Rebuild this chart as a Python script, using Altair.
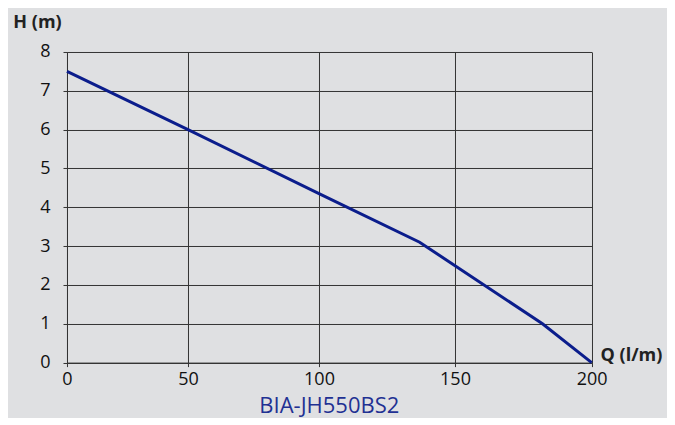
import altair as alt
import pandas as pd

q_values = [0, 50, 100, 137, 182, 200]
h_values = [7.5, 6.0, 4.35, 3.1, 1.0, 0]
x_ticks = [0, 50, 100, 150, 200]
y_ticks = [0, 1, 2, 3, 4, 5, 6, 7, 8]
model = "BIA-JH550BS2"

df = pd.DataFrame({"Q": q_values, "H": h_values})

FONT = "Open Sans"
W, H = 524.7, 310.6

chart = alt.Chart(df).mark_line(color="#0b1d8c", strokeWidth=3).encode(
    x=alt.X("Q:Q",
            scale=alt.Scale(domain=x_ticks, range=[0, 121, 252, 388, W], nice=False, zero=False),
            axis=alt.Axis(values=x_ticks, title="Q (l/m)", titleX=564, titleY=-7,
                          titleAlign="center", titleBaseline="middle",
                          labelPadding=4, tickSize=4, labelFlush=False)),
    y=alt.Y("H:Q",
            scale=alt.Scale(domain=[0, 8], nice=False),
            axis=alt.Axis(values=y_ticks, title="H (m)", titleAngle=0, titleX=-30, titleY=-30,
                          titleAlign="center", titleBaseline="middle",
                          labelPadding=13, tickSize=4, labelFlush=False)),
).properties(
    width=W, height=H,
    title=alt.TitleParams(model, orient="bottom", anchor="middle", frame="group",
                          offset=7, color="#1f3193", fontSize=22, font=FONT, fontWeight="normal"),
    background="#dfe0e2",
    autosize=alt.AutoSizeParams(type="none"),
    padding={"left": 59, "top": 44, "right": 75, "bottom": 55},
).configure_view(
    stroke=None
).configure_axis(
    grid=True, gridColor="#333333", gridWidth=1, gridOpacity=1,
    domainColor="#333333", domainWidth=1,
    tickColor="#333333", tickWidth=1,
    labelFont=FONT, labelFontSize=18, labelColor="#111111",
    titleFont=FONT, titleFontSize=18, titleFontWeight="bold", titleColor="#222222",
)

chart.save("out.html", embed_options={"renderer": "svg", "actions": False})
